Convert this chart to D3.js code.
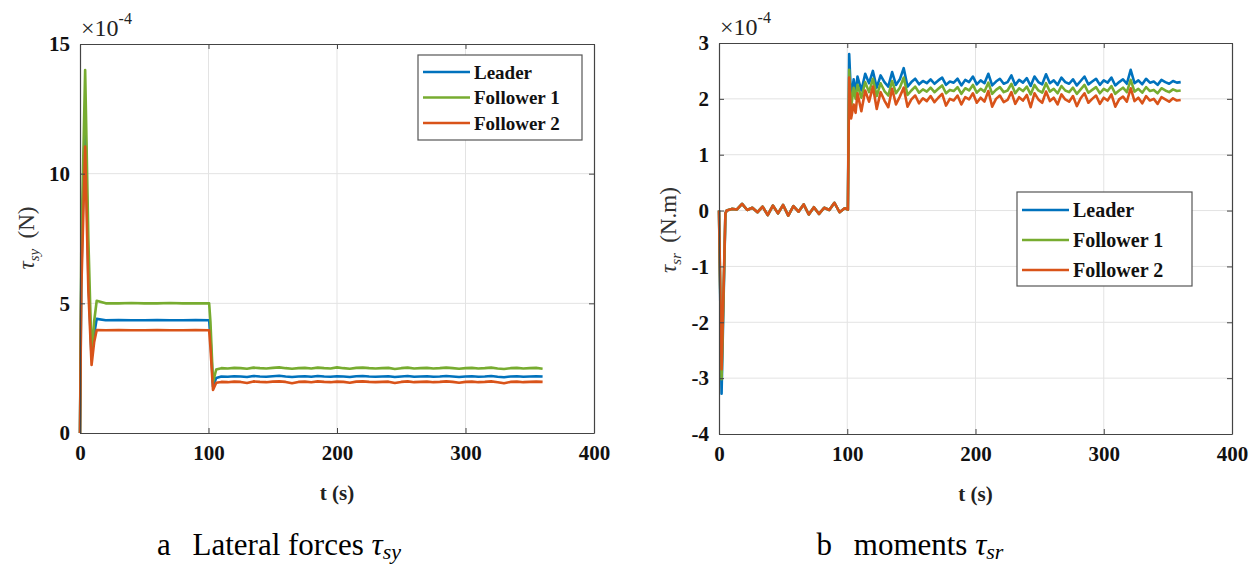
<!DOCTYPE html>
<html><head><meta charset="utf-8">
<script src="https://cdn.jsdelivr.net/npm/d3@7"></script>
<style>
html,body{margin:0;padding:0;background:#fff;}
svg{display:block;}
svg text{font-family:"Liberation Serif","Tinos","Times New Roman","Nimbus Roman","DejaVu Serif",serif !important;}
</style></head>
<body><svg id="chart" width="1253" height="566"></svg>
<script>
// ---------------- DATA ----------------
const seriesNames = ["Leader", "Follower 1", "Follower 2"];
const seriesColors = ["#0072BD", "#77AC30", "#D95319"];
const xTicks = [0, 100, 200, 300, 400];
const yTicksA = [0, 5, 10, 15];
const yTicksB = [-4, -3, -2, -1, 0, 1, 2, 3];

// Panel a: lateral forces (x1e-4), transient part
const tA_head = [0, 1, 4, 6.5, 9, 11, 13, 20, 30, 40, 50, 60, 70, 80, 90, 100.5, 101.5, 103.5, 106, 110];
const leaderA_head = [0, 6, 12.5, 6, 2.9, 3.8, 4.4, 4.35, 4.36, 4.35, 4.35, 4.36, 4.35, 4.35, 4.36, 4.35, 3.7, 1.8, 2.12, 2.18];
const follower1A_head = [0, 7, 14, 7.5, 3.0, 4.3, 5.1, 5.0, 5.0, 5.01, 5.0, 5.0, 5.01, 5.0, 5.0, 5.0, 4.3, 1.95, 2.45, 2.5];
const follower2A_head = [0, 5.5, 11.05, 5.5, 2.62, 3.5, 3.97, 3.96, 3.97, 3.96, 3.96, 3.97, 3.96, 3.96, 3.97, 3.96, 3.3, 1.66, 1.94, 1.97];
// steady part, every 5 s from 115 to 360
const leaderA_tail = [2.17,2.19,2.18,2.16,2.20,2.18,2.17,2.19,2.21,2.18,2.16,2.18,2.19,2.17,2.20,2.18,2.17,2.19,2.18,2.16,2.19,2.20,2.18,2.17,2.18,2.19,2.16,2.18,2.20,2.17,2.18,2.19,2.17,2.18,2.20,2.18,2.16,2.18,2.19,2.17,2.18,2.20,2.17,2.15,2.18,2.19,2.17,2.18,2.19,2.18];
const follower1A_tail = [2.49,2.51,2.50,2.48,2.52,2.50,2.49,2.51,2.53,2.50,2.48,2.50,2.51,2.49,2.52,2.50,2.49,2.53,2.50,2.48,2.51,2.52,2.50,2.49,2.50,2.51,2.47,2.50,2.52,2.49,2.50,2.51,2.49,2.50,2.52,2.50,2.48,2.50,2.51,2.49,2.50,2.52,2.49,2.47,2.50,2.51,2.49,2.50,2.51,2.48];
const follower2A_tail = [1.96,1.98,1.97,1.93,1.99,1.97,1.96,1.98,1.99,1.97,1.92,1.97,1.98,1.96,1.99,1.97,1.96,1.98,1.97,1.94,1.98,1.99,1.97,1.96,1.97,1.98,1.93,1.97,1.99,1.96,1.97,1.98,1.96,1.97,1.99,1.97,1.94,1.97,1.98,1.96,1.97,1.99,1.96,1.92,1.97,1.98,1.96,1.97,1.98,1.97];

// Panel b: moments (x1e-4)
const tB_start = [0, 2, 5];
const leaderB_start = [0, -3.28, -0.05];
const follower1B_start = [0, -3.02, -0.05];
const follower2B_start = [0, -2.84, -0.05];
// near-zero part, every 4 s from 6 to 98 (shared by all three)
const commonB_mid = [0.00,0.03,0.02,0.12,0.01,0.05,-0.03,0.07,-0.08,0.09,-0.05,0.10,-0.09,0.08,-0.02,0.11,-0.07,0.06,-0.06,0.05,0.01,0.14,-0.03,0.04];
const tB_jump = [100.5, 101.5, 103, 105, 106.5];
const leaderB_jump = [0.02, 2.8, 2.0, 2.35, 2.1];
const follower1B_jump = [0.02, 2.52, 1.85, 2.2, 2.0];
const follower2B_jump = [0.02, 2.38, 1.65, 1.9, 1.75];
// noisy part, every 3 s from 108 to 360
const leaderB_tail = [2.40,2.15,2.45,2.28,2.50,2.20,2.42,2.30,2.22,2.48,
  2.25,2.35,2.55,2.22,2.30,2.36,2.26,2.32,2.28,2.35,
  2.27,2.33,2.38,2.25,2.31,2.29,2.36,2.24,2.34,2.30,
  2.40,2.26,2.33,2.28,2.45,2.24,2.31,2.36,2.27,2.30,
  2.42,2.25,2.34,2.29,2.37,2.23,2.40,2.30,2.26,2.44,
  2.28,2.33,2.25,2.38,2.30,2.27,2.35,2.24,2.32,2.40,
  2.26,2.31,2.36,2.25,2.33,2.29,2.38,2.24,2.30,2.35,
  2.27,2.52,2.28,2.33,2.26,2.36,2.29,2.31,2.25,2.34,
  2.30,2.27,2.32,2.29,2.30];
const follower1B_tail = [2.25,2.02,2.30,2.12,2.36,2.05,2.28,2.14,2.06,2.32,
  2.10,2.20,2.38,2.07,2.15,2.22,2.11,2.17,2.13,2.20,
  2.12,2.18,2.24,2.10,2.16,2.14,2.21,2.09,2.19,2.15,
  2.25,2.11,2.18,2.13,2.29,2.09,2.16,2.21,2.12,2.15,
  2.27,2.10,2.19,2.14,2.22,2.08,2.25,2.15,2.11,2.28,
  2.13,2.18,2.10,2.23,2.15,2.12,2.20,2.09,2.17,2.25,
  2.11,2.16,2.21,2.10,2.18,2.14,2.23,2.09,2.15,2.20,
  2.12,2.34,2.13,2.18,2.11,2.21,2.14,2.16,2.10,2.19,
  2.15,2.12,2.17,2.14,2.15];
const follower2B_tail = [2.10,1.78,2.15,1.95,2.22,1.82,2.12,1.97,1.85,2.18,
  1.90,2.04,2.20,1.86,1.99,2.06,1.92,2.01,1.96,2.05,
  1.94,2.02,2.09,1.88,2.00,1.97,2.06,1.90,2.03,1.99,
  2.10,1.93,2.02,1.95,2.14,1.86,2.00,2.06,1.94,1.98,
  2.12,1.91,2.03,1.97,2.07,1.85,2.10,1.99,1.93,2.13,
  1.96,2.02,1.90,2.08,1.99,1.95,2.05,1.87,2.01,2.10,
  1.93,2.00,2.06,1.91,2.02,1.97,2.08,1.86,1.99,2.04,
  1.95,2.19,1.96,2.02,1.92,2.05,1.97,2.00,1.91,2.03,
  1.99,1.95,2.01,1.97,1.98];

// ---------------- BUILD SERIES ----------------
const tA_tail = d3.range(115, 361, 5);
const tB_mid = d3.range(6, 99, 4);
const tB_tail = d3.range(108, 361, 3);
const zip = (ts, vs) => ts.map((t, i) => [t, vs[i]]);

const panelAData = [
  zip(tA_head, leaderA_head).concat(zip(tA_tail, leaderA_tail)),
  zip(tA_head, follower1A_head).concat(zip(tA_tail, follower1A_tail)),
  zip(tA_head, follower2A_head).concat(zip(tA_tail, follower2A_tail))
];
const panelBData = [
  [leaderB_start, leaderB_jump, leaderB_tail],
  [follower1B_start, follower1B_jump, follower1B_tail],
  [follower2B_start, follower2B_jump, follower2B_tail]
].map(([s, j, t]) => zip(tB_start, s).concat(zip(tB_mid, commonB_mid), zip(tB_jump, j), zip(tB_tail, t)));

// ---------------- DRAW ----------------
const svg = d3.select("#chart");

function drawPanel(cfg) {
  const g = svg.append("g");
  const x = d3.scaleLinear().domain([0, 400]).range([cfg.left, cfg.right]);
  const y = d3.scaleLinear().domain(cfg.yDomain).range([cfg.bottom, cfg.top]);

  // grid
  g.append("g").selectAll("line").data(xTicks.slice(1, -1)).join("line")
    .attr("x1", d => x(d)).attr("x2", d => x(d)).attr("y1", cfg.top).attr("y2", cfg.bottom)
    .attr("stroke", "#e3e3e3").attr("stroke-width", 1);
  g.append("g").selectAll("line").data(cfg.yTicks.slice(1, -1)).join("line")
    .attr("y1", d => y(d)).attr("y2", d => y(d)).attr("x1", cfg.left).attr("x2", cfg.right)
    .attr("stroke", "#e3e3e3").attr("stroke-width", 1);

  // lines
  const line = d3.line().x(d => x(d[0])).y(d => y(d[1]));
  cfg.data.forEach((s, i) => {
    g.append("path").datum(s).attr("d", line).attr("fill", "none")
      .attr("stroke", seriesColors[i]).attr("stroke-width", 2.6)
      .attr("stroke-linejoin", "round");
  });

  // axes (ticks inward, box)
  const fmt = d => String(d);
  const axStyle = sel => {
    sel.attr("font-family", null);
    sel.select(".domain").attr("stroke", "#444").attr("stroke-width", 1.2);
    sel.selectAll(".tick line").attr("stroke", "#444");
    sel.selectAll(".tick text").attr("fill", "#111").attr("font-weight", "bold")
      .attr("font-size", 21);
  };
  g.append("g").attr("transform", `translate(0,${cfg.bottom})`)
    .call(d3.axisBottom(x).tickValues(xTicks).tickFormat(fmt).tickSize(-5).tickSizeOuter(0).tickPadding(12))
    .call(axStyle);
  g.append("g").attr("transform", `translate(0,${cfg.top})`)
    .call(d3.axisTop(x).tickValues(xTicks).tickSize(-5).tickSizeOuter(0).tickFormat(""))
    .call(axStyle);
  g.append("g").attr("transform", `translate(${cfg.left},0)`)
    .call(d3.axisLeft(y).tickValues(cfg.yTicks).tickFormat(fmt).tickSize(-5).tickSizeOuter(0).tickPadding(10))
    .call(axStyle);
  g.append("g").attr("transform", `translate(${cfg.right},0)`)
    .call(d3.axisRight(y).tickValues(cfg.yTicks).tickSize(-5).tickSizeOuter(0).tickFormat(""))
    .call(axStyle);

  // exponent label
  const ex = g.append("text").attr("x", cfg.left + 1).attr("y", cfg.top - 8)
    .attr("font-size", 24).attr("fill", "#222");
  ex.append("tspan").text("\u00d710");
  ex.append("tspan").attr("dy", -12).attr("font-size", 16).text("-4");

  // x label
  g.append("text").attr("x", (cfg.left + cfg.right) / 2).attr("y", cfg.bottom + 67)
    .attr("text-anchor", "middle").attr("font-weight", "bold").attr("font-size", 21)
    .attr("fill", "#222").text("t (s)");

  // y label
  const yl = g.append("text")
    .attr("transform", `translate(${cfg.ylabX},${cfg.ylabY}) rotate(-90)`)
    .attr("text-anchor", "middle").attr("font-size", 23).attr("fill", "#333");
  yl.append("tspan").attr("font-style", "italic").text("\u03c4");
  yl.append("tspan").attr("font-style", "italic").attr("font-size", 15).attr("dy", 5).text(cfg.ysub);
  yl.append("tspan").attr("dy", -5).text("\u2009 (" + cfg.yunit + ")");

  // legend
  const lg = g.append("g").attr("transform", `translate(${cfg.legX},${cfg.legY})`);
  lg.append("rect").attr("width", cfg.legW).attr("height", cfg.legH)
    .attr("fill", "#fff").attr("stroke", "#555").attr("stroke-width", 1.2);
  seriesNames.forEach((n, i) => {
    const yy = cfg.legRow0 + i * cfg.legStep;
    lg.append("line").attr("x1", 5).attr("x2", 52).attr("y1", yy).attr("y2", yy)
      .attr("stroke", seriesColors[i]).attr("stroke-width", 2.6);
    lg.append("text").attr("x", 56).attr("y", yy + 6.5).attr("font-weight", "bold")
      .attr("font-size", cfg.legFont).attr("fill", "#111").text(n);
  });

  // caption
  const cap = g.append("text").attr("x", cfg.capX).attr("y", 555)
    .attr("text-anchor", "middle").attr("font-size", 31).attr("fill", "#000");
  cap.append("tspan").text(cfg.capLetter + "\u2002\u2009" + cfg.capText + " ");
  cap.append("tspan").attr("font-style", "italic").text("\u03c4");
  cap.append("tspan").attr("font-style", "italic").attr("font-size", 22).attr("dy", 4).text(cfg.ysub);
}

drawPanel({
  left: 80, right: 594, top: 44, bottom: 433,
  yDomain: [0, 15], yTicks: yTicksA, data: panelAData,
  ysub: "sy", yunit: "N", ylabX: 34, ylabY: 238,
  legX: 418, legY: 55, legW: 164, legH: 85, legRow0: 17, legStep: 25.5, legFont: 19,
  capX: 279, capLetter: "a", capText: "Lateral forces"
});
drawPanel({
  left: 719, right: 1232, top: 43, bottom: 434,
  yDomain: [-4, 3], yTicks: yTicksB, data: panelBData,
  ysub: "sr", yunit: "N.m", ylabX: 676, ylabY: 230,
  legX: 1017, legY: 192, legW: 175, legH: 94, legRow0: 18, legStep: 30, legFont: 20,
  capX: 910, capLetter: "b", capText: "moments"
});
</script></body></html>
